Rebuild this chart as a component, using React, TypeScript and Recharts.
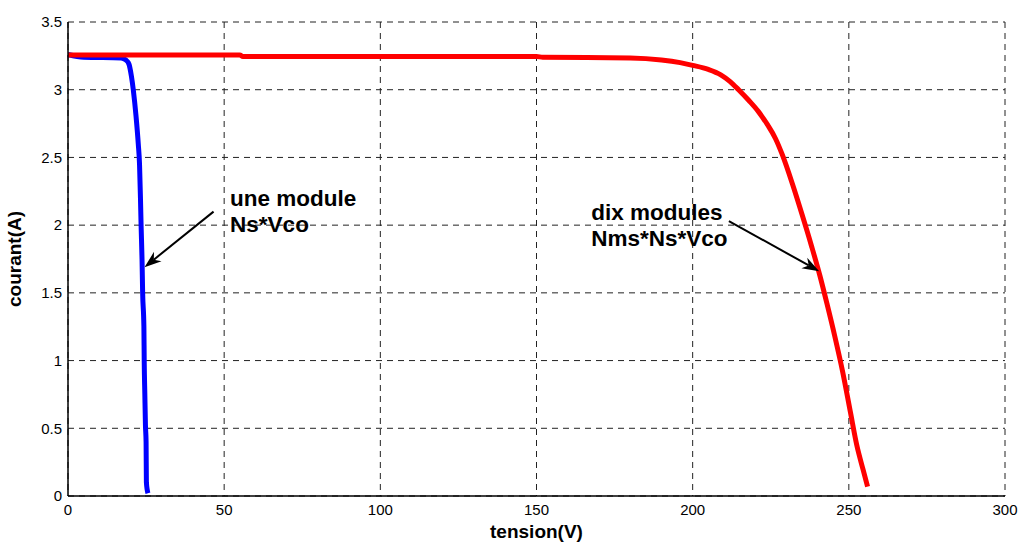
import React from 'react';
import { LineChart, Line, XAxis, YAxis, CartesianGrid, ReferenceLine, ReferenceDot } from 'recharts';

// une module : tension (V) / courant (A)
const uneModuleV = [0, 5, 17, 18.5, 19.5, 20.3, 20.9, 21.8, 22.5, 22.9, 23.2, 23.4, 23.7, 23.9, 24.3, 24.4, 24.6, 24.8, 25.0, 25.1, 25.6];
const uneModuleI = [3.26, 3.24, 3.235, 3.22, 3.19, 3.1, 3.0, 2.8, 2.6, 2.45, 2.2, 2.0, 1.75, 1.5, 1.25, 1.0, 0.75, 0.52, 0.4, 0.1, 0.02];

// dix modules : tension (V) / courant (A)
const dixModulesV = [0, 55, 56, 150, 152, 180, 190, 196, 200, 205, 209, 212, 214.7, 218, 221, 224, 226.5, 228.7, 232, 235, 238, 240.7, 243, 245.5, 248, 250.5, 252.5, 254.5, 256];
const dixModulesI = [3.257, 3.257, 3.245, 3.245, 3.24, 3.235, 3.22, 3.2, 3.18, 3.15, 3.11, 3.06, 3.0, 2.92, 2.84, 2.74, 2.64, 2.52, 2.3, 2.08, 1.85, 1.63, 1.42, 1.18, 0.92, 0.62, 0.38, 0.2, 0.07];

const xTicks = [0, 50, 100, 150, 200, 250, 300];
const yTicks = [0, 0.5, 1, 1.5, 2, 2.5, 3, 3.5];

// annotations (data coordinates)
const uneText = ['une module', 'Ns*Vco'];
const uneTextAt = { x: 51.9, y: 2.14 };
const uneArrow = [{ x: 46.6, y: 2.1 }, { x: 24.5, y: 1.69 }];
const dixText = ['dix modules', 'Nms*Ns*Vco'];
const dixTextAt = { x: 167.5, y: 2.04 };
const dixArrow = [{ x: 211.6, y: 2.03 }, { x: 240.5, y: 1.66 }];

const uneData = uneModuleV.map((v, k) => ({ v, i: uneModuleI[k] }));
const dixData = dixModulesV.map((v, k) => ({ v, i: dixModulesI[k] }));

const font = '"Liberation Sans", Arial, sans-serif';

const Arrow = (props: any) => {
  const { x1, y1, x2, y2 } = props;
  const dx = x2 - x1;
  const dy = y2 - y1;
  const len = Math.sqrt(dx * dx + dy * dy);
  const ux = dx / len;
  const uy = dy / len;
  const hl = 17;
  const hw = 6;
  const bx = x2 - ux * hl;
  const by = y2 - uy * hl;
  const nx = x2 - ux * hl * 0.7;
  const ny = y2 - uy * hl * 0.7;
  const pts = `${x2},${y2} ${bx - uy * hw},${by + ux * hw} ${nx},${ny} ${bx + uy * hw},${by - ux * hw}`;
  return (
    <g>
      <line x1={x1} y1={y1} x2={nx} y2={ny} stroke="#000" strokeWidth={2} />
      <polygon points={pts} fill="#000" />
    </g>
  );
};

const note = (lines: string[]) => (props: any) => (
  <text x={props.cx} y={props.cy} fontFamily={font} fontWeight="bold" fontSize={22.5} fill="#000">
    {lines.map((t, k) => (
      <tspan key={k} x={props.cx} dy={k === 0 ? 0 : 26}>{t}</tspan>
    ))}
  </text>
);

const App = () => {
  return (
    <div style={{ position: 'absolute', left: 0, top: 0, background: '#fff' }}>
      <LineChart width={1022} height={545} margin={{ top: 22, right: 17, left: 0, bottom: 0 }}>
        <CartesianGrid stroke="#222" strokeDasharray="6 5" />
        <XAxis
          dataKey="v"
          type="number"
          domain={[0, 300]}
          ticks={xTicks}
          height={49}
          tickSize={0}
          tickMargin={8}
          tick={{ fill: '#000', fontSize: 15, fontFamily: font }}
          axisLine={{ stroke: '#000', strokeWidth: 1.5 }}
          label={{ value: 'tension(V)', position: 'insideBottom', offset: 7, style: { fontFamily: font, fontWeight: 'bold', fontSize: 19, fill: '#000' } }}
        />
        <XAxis xAxisId="top" orientation="top" type="number" domain={[0, 300]} height={0} tick={false} tickLine={false} axisLine={{ stroke: '#000', strokeWidth: 1.5 }} />
        <YAxis
          type="number"
          domain={[0, 3.5]}
          ticks={yTicks}
          width={68}
          tickSize={0}
          tickMargin={6}
          tick={{ fill: '#000', fontSize: 15, fontFamily: font }}
          axisLine={{ stroke: '#000', strokeWidth: 1.5 }}
          label={{ value: 'courant(A)', angle: -90, position: 'insideLeft', offset: 14, style: { textAnchor: 'middle', fontFamily: font, fontWeight: 'bold', fontSize: 19, fill: '#000' } }}
        />
        <YAxis yAxisId="right" orientation="right" type="number" domain={[0, 3.5]} width={0} tick={false} tickLine={false} axisLine={{ stroke: '#000', strokeWidth: 1.5 }} />
        <Line data={uneData} dataKey="i" stroke="#0000ff" strokeWidth={5} dot={false} isAnimationActive={false} type="monotone" />
        <Line data={dixData} dataKey="i" stroke="#ff0000" strokeWidth={5} dot={false} isAnimationActive={false} type="monotone" />
        <ReferenceLine segment={uneArrow} shape={Arrow} ifOverflow="visible" />
        <ReferenceLine segment={dixArrow} shape={Arrow} ifOverflow="visible" />
        <ReferenceDot x={uneTextAt.x} y={uneTextAt.y} r={1} shape={note(uneText)} ifOverflow="visible" />
        <ReferenceDot x={dixTextAt.x} y={dixTextAt.y} r={1} shape={note(dixText)} ifOverflow="visible" />
      </LineChart>
    </div>
  );
};

export default App;
